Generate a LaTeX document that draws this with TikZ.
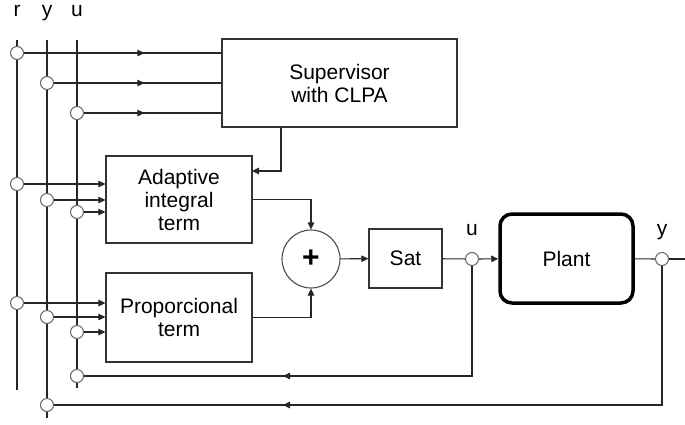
\documentclass[tikz,border=0pt]{standalone}
\usepackage{fontspec}
\setmainfont{Liberation Sans}
\usetikzlibrary{arrows.meta,decorations.markings}

\tikzset{
  blk/.style={draw=black!80, line width=1.2pt, fill=white, align=center, inner sep=0pt},
  jn/.style={circle, draw=black!60, fill=white, line width=1pt, minimum size=13pt, inner sep=0pt},
  wire/.style={line width=1.1pt, black!85},
  tip/.style={-{Triangle[length=7pt,width=6.5pt]}},
  midtip/.style={postaction={decorate}, decoration={markings,
      mark=at position #1 with {\arrow{Triangle[length=7pt,width=6.5pt]}}}},
}

\begin{document}
\begin{tikzpicture}[x=1pt, y=-1pt, font=\fontsize{21}{23}\selectfont]
    \useasboundingbox (0,0) rectangle (685,424);
    % signal buses
    \coordinate (rTop) at (17,40);
    \coordinate (rBot) at (17,390);
    \coordinate (yTop) at (47,40);
    \coordinate (yBot) at (47,418);
    \coordinate (uTop) at (77,40);
    \coordinate (uBot) at (77,388);
    \draw[wire] (rTop) -- (rBot);
    \draw[wire] (yTop) -- (yBot);
    \draw[wire] (uTop) -- (uBot);
    \node[anchor=base] (lr) at (17,16) {r};
    \node[anchor=base] (ly) at (47,16) {y};
    \node[anchor=base] (lu) at (77,16) {u};
    % blocks
    \node[blk, minimum width=235pt, minimum height=88pt] (sup) at (339.5,83) {Supervisor\\with CLPA};
    \node[blk, minimum width=146pt, minimum height=87pt] (adp) at (179,199.5) {Adaptive\\integral\\term};
    \node[blk, minimum width=146pt, minimum height=89pt] (prp) at (179,317.5) {Proporcional\\term};
    \node[circle, draw=black!70, line width=1.1pt, minimum size=58pt, inner sep=0pt,
          font=\fontsize{30}{30}\selectfont\bfseries] (sum) at (311,259) {+};
    \node[blk, minimum width=73pt, minimum height=59pt] (sat) at (405.5,258.5) {Sat};
    \node[blk, draw=black, line width=3.5pt, rounded corners=12pt, minimum width=133pt, minimum height=89pt] (plant) at (566.5,258.5) {Plant};
    % junctions on the buses
    \foreach \s/\x/\yS/\yA/\yP in {r/17/53/184/303, y/47/83/200/317, u/77/113/212/332}{
      \node[jn] (\s S) at (\x,\yS) {};
      \node[jn] (\s A) at (\x,\yA) {};
      \node[jn] (\s P) at (\x,\yP) {};
      \draw[wire, midtip=-77pt] (\s S) -- (\s S -| sup.west);
      \draw[wire, tip] (\s A) -- (\s A -| adp.west);
      \draw[wire, tip] (\s P) -- (\s P -| prp.west);
    }
    \node[jn] (uF) at (77,376) {};
    \node[jn] (yF) at (47,405) {};
    % supervisor to adaptive term
    \coordinate (supOut) at (281,127);
    \coordinate (adpIn) at (252,171);
    \draw[wire, tip] (supOut) |- (adpIn);
    % forward path
    \draw[wire, tip] (adp.east) -| (sum.north);
    \draw[wire, tip] (prp.east) -| (sum.south);
    \draw[wire, tip] (sum) -- (sat);
    \node[jn] (uO) at (472,259) {};
    \node[jn] (yO) at (662,259) {};
    \node[anchor=base] (lu2) at (472,235) {u};
    \node[anchor=base] (ly2) at (662,235) {y};
    \coordinate (yEnd) at (685,259);
    \draw[wire] (sat) -- (uO);
    \draw[wire, tip] (uO) -- (plant);
    \draw[wire] (plant) -- (yO);
    \draw[wire] (yO) -- (yEnd);
    % feedback
    \draw[wire, midtip=-199pt] (uO) |- (uF);
    \draw[wire, midtip=-229pt] (yO) |- (yF);
  \end{tikzpicture}
\end{document}
